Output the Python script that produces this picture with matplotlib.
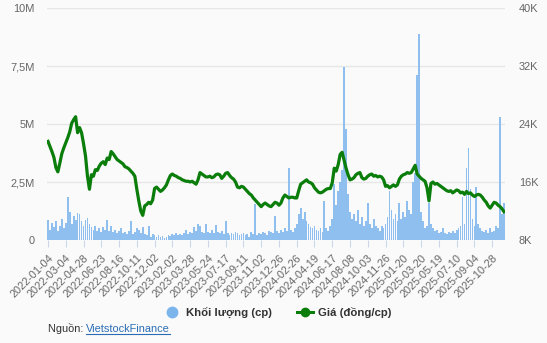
import matplotlib
matplotlib.use("Agg")
import matplotlib.pyplot as plt
from matplotlib.lines import Line2D
import numpy as np

plt.rcParams['font.family'] = ['Liberation Sans', 'DejaVu Sans']

# Trading-volume (million shares) and closing price (thousand VND), sampled every few sessions
volume_m = [
    0.85, 0.45, 0.75, 0.55, 0.8, 0.4, 0.6, 0.9, 0.5, 0.75,
    1.85, 1.2, 0.7, 1.05, 0.85, 1.15, 1.1, 0.8, 0.6, 0.85,
    0.95, 0.7, 0.55, 0.45, 0.6, 0.4, 0.5, 0.35, 0.55, 0.45,
    0.85, 0.4, 0.6, 0.35, 0.45, 0.3, 0.4, 0.5, 0.3, 0.35,
    0.25, 0.4, 0.8, 0.25, 0.35, 0.5, 0.45, 0.3, 0.55, 0.25,
    0.2, 0.6, 0.15, 0.25, 0.2, 0.15, 0.2, 0.12, 0.18, 0.1,
    0.15, 0.2, 0.18, 0.25, 0.2, 0.3, 0.22, 0.28, 0.2, 0.3,
    0.45, 0.25, 0.35, 0.3, 0.55, 0.4, 0.7, 0.6, 0.35, 0.3,
    0.7, 0.35, 0.3, 0.45, 0.3, 0.65, 0.35, 0.3, 0.4, 0.25,
    0.8, 0.3, 0.2, 0.3, 0.25, 0.35, 0.3, 0.2, 0.25, 0.3,
    0.2, 0.25, 0.15, 0.35, 0.25, 1.55, 0.2, 0.3, 0.25, 0.35,
    0.3, 0.2, 0.4, 0.35, 0.3, 1.05, 0.4, 0.3, 0.45, 0.35,
    0.5, 0.4, 3.1, 0.45, 0.35, 0.5, 0.7, 1.1, 1.4, 0.9,
    1.2, 0.8, 0.7, 0.55, 0.5, 0.6, 0.45, 0.4, 0.5, 0.35,
    1.7, 0.5, 0.4, 0.6, 0.9, 2.4, 1.5, 2.1, 2.5, 3.0,
    7.45, 4.8, 2.0, 1.2, 0.9, 1.1, 0.8, 1.3, 0.7, 1.0,
    0.6, 0.8, 1.6, 0.7, 0.5, 0.9, 0.6, 0.5, 0.4, 0.6,
    0.5, 0.7, 1.0, 2.1, 1.3, 0.9, 1.1, 0.8, 1.6, 0.9,
    1.2, 1.0, 1.7, 1.3, 1.1, 2.5, 2.9, 7.1, 8.9, 1.2,
    0.8, 0.5, 0.6, 1.6, 0.7, 0.5, 0.4, 0.45, 0.3, 0.35,
    0.5, 0.3, 0.25, 0.35, 0.3, 0.4, 0.3, 0.45, 0.5, 0.6,
    1.85, 0.7, 3.1, 3.95, 2.2, 0.9, 0.6, 2.3, 0.7, 0.5,
    0.4, 0.35, 0.45, 0.3, 0.5, 0.35, 0.4, 0.6, 0.5, 5.3,
    1.1, 1.6,
]

price_k = [
    21.6, 20.9, 20.2, 19.4, 18.0, 17.4, 18.6, 19.9, 20.7, 21.4,
    22.1, 22.9, 24.1, 24.6, 25.0, 22.8, 23.5, 22.8, 21.3, 19.6,
    16.8, 15.0, 17.0, 16.8, 17.7, 17.6, 18.2, 18.6, 18.8, 18.4,
    19.3, 19.1, 20.2, 19.9, 19.5, 19.1, 18.9, 18.7, 18.5, 18.1,
    18.0, 17.8, 17.5, 17.2, 16.8, 15.0, 13.4, 12.0, 11.4, 12.7,
    12.9, 13.2, 13.0, 13.5, 15.1, 15.3, 15.0, 14.7, 14.9, 15.2,
    15.6, 16.3, 16.9, 17.1, 16.9, 16.8, 16.6, 16.5, 16.3, 16.2,
    16.1, 16.1, 16.0, 16.1, 15.9, 15.7, 16.3, 17.3, 17.1, 16.9,
    16.7, 16.7, 16.8, 16.6, 16.7, 17.0, 17.1, 17.0, 16.5, 16.8,
    17.2, 17.3, 16.9, 16.6, 16.4, 16.0, 15.3, 15.2, 15.4, 15.3,
    15.0, 14.7, 14.4, 14.2, 13.8, 13.5, 13.2, 12.9, 12.6, 12.9,
    13.1, 12.9, 12.7, 12.6, 12.9, 13.2, 13.1, 12.8, 13.1, 13.8,
    14.2, 14.0, 13.8, 13.9, 13.9, 13.8, 13.8, 14.8, 15.7, 15.9,
    16.1, 16.3, 16.0, 15.9, 15.7, 15.2, 14.9, 14.6, 14.5, 14.6,
    14.8, 15.0, 15.1, 15.1, 15.9, 17.9, 17.5, 18.4, 19.8, 20.1,
    19.0, 17.9, 17.0, 16.3, 16.4, 16.6, 17.0, 17.2, 17.3, 16.6,
    16.4, 16.5, 16.8, 17.0, 17.1, 16.8, 16.9, 16.7, 16.8, 16.7,
    16.3, 15.4, 15.5, 15.2, 15.4, 15.6, 15.4, 15.6, 16.4, 16.8,
    17.0, 17.1, 17.3, 17.2, 17.3, 17.8, 18.3, 17.1, 16.8, 16.5,
    16.3, 16.1, 15.2, 13.4, 15.8, 16.0, 15.7, 15.8, 15.6, 15.4,
    15.2, 15.0, 14.8, 14.7, 14.8, 14.5, 14.7, 14.9, 14.8, 14.5,
    14.6, 14.3, 14.7, 14.4, 14.5, 14.2, 14.0, 14.2, 14.3, 14.2,
    13.9, 13.5, 13.2, 12.7, 12.4, 12.8, 13.2, 13.1, 12.8, 12.6,
    12.3, 11.9,
]

date_labels = [
    "2022-01-04", "2022-03-04", "2022-04-28", "2022-06-23", "2022-08-16",
    "2022-10-11", "2022-12-02", "2023-02-02", "2023-03-28", "2023-05-24",
    "2023-07-17", "2023-09-11", "2023-11-02", "2023-12-26", "2024-02-26",
    "2024-04-19", "2024-06-17", "2024-08-08", "2024-10-03", "2024-11-26",
    "2025-01-20", "2025-03-20", "2025-05-19", "2025-07-10", "2025-09-04",
    "2025-10-28",
]
label_step = 9  # samples between consecutive date labels

vol_ticks = [0, 2.5, 5, 7.5, 10]
vol_tick_labels = ["0", "2,5M", "5M", "7,5M", "10M"]
price_ticks = [8, 16, 24, 32, 40]
price_tick_labels = ["8K", "16K", "24K", "32K", "40K"]

BG = "#fafafa"
BAR_BLUE = "#8fbfee"
LEGEND_BLUE = "#7cb5ec"
LINE_GREEN = "#0b7d0b"
LABEL_GRAY = "#666666"
GRID = "#e6e6e6"

W, H = 547, 343
fig = plt.figure(figsize=(W / 100, H / 100), dpi=100)
fig.patch.set_facecolor(BG)

ax = fig.add_axes([47 / W, 103 / H, 458 / W, 232 / H])
ax.set_facecolor(BG)
idx = np.arange(len(volume_m))
ax.bar(idx, volume_m, width=0.9, color=BAR_BLUE, linewidth=0, zorder=2)
ax.set_xlim(-0.5, len(volume_m) - 0.5)
ax.set_ylim(0, 10)
ax.set_yticks(vol_ticks)
ax.set_yticklabels(vol_tick_labels)
ax.yaxis.grid(True, color=GRID, linewidth=1.0, zorder=0)
ax.set_axisbelow(True)
for s in ax.spines.values():
    s.set_visible(False)
ax.tick_params(axis='y', length=0, pad=9, labelsize=7.9, labelcolor=LABEL_GRAY)

tick_pos = np.arange(len(date_labels)) * label_step
ax.set_xticks(tick_pos)
ax.set_xticklabels(date_labels, rotation=45, ha='right', rotation_mode='anchor')
ax.tick_params(axis='x', length=5, width=0.8, color="#ccd6eb", pad=4,
               labelsize=7.9, labelcolor=LABEL_GRAY)

ax2 = ax.twinx()
ax2.plot(np.arange(len(price_k)), price_k, color=LINE_GREEN, linewidth=2.3,
         solid_joinstyle='round', zorder=3)
ax2.set_ylim(8, 40)
ax2.set_yticks(price_ticks)
ax2.set_yticklabels(price_tick_labels)
ax2.tick_params(axis='y', length=0, pad=10, labelsize=7.9, labelcolor=LABEL_GRAY)
for s in ax2.spines.values():
    s.set_visible(False)

handles = [
    Line2D([], [], linestyle='none', marker='o', markersize=7.5,
           markerfacecolor=LEGEND_BLUE, markeredgecolor=LEGEND_BLUE),
    Line2D([], [], color=LINE_GREEN, linewidth=2.2, marker='o', markersize=6,
           markerfacecolor=LINE_GREEN, markeredgecolor=LINE_GREEN),
]
leg = fig.legend(handles, ["Khối lượng (cp)", "Giá (đồng/cp)"], loc='center',
                 bbox_to_anchor=(278 / W, 1 - 313 / H), ncol=2, frameon=False,
                 handlelength=1.4, handletextpad=0.5, columnspacing=2.2,
                 prop={'weight': 'bold', 'size': 8.2})
for t in leg.get_texts():
    t.set_color("#333333")

src = fig.text(48 / W, 1 - 329 / H, "Nguồn: ", fontsize=7.9, color="#333333",
               va='center', ha='left')
fig.canvas.draw()
r = fig.canvas.get_renderer()
bb = src.get_window_extent(r)
link = fig.text(bb.x1 / W, 1 - 329 / H, "VietstockFinance", fontsize=7.9,
                color="#2a6db5", va='center', ha='left')
fig.canvas.draw()
lb = link.get_window_extent(r)
fig.add_artist(Line2D([lb.x0 / W, lb.x1 / W], [(lb.y0 + 0.5) / H, (lb.y0 + 0.5) / H],
                      color="#2a6db5", linewidth=0.8, transform=fig.transFigure))

fig.savefig("out.png", dpi=100, facecolor=BG)
